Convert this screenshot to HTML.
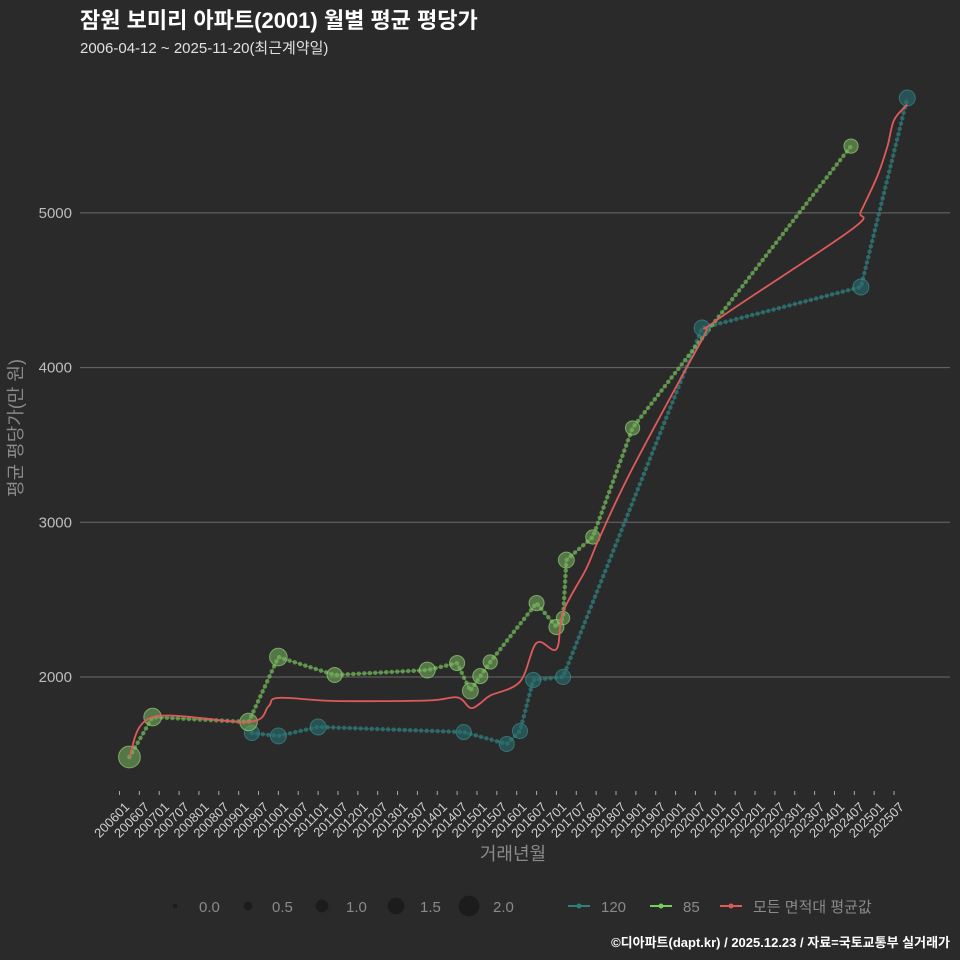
<!DOCTYPE html>
<html><head><meta charset="utf-8"><style>
html,body{margin:0;padding:0;background:#2a2a2b;}
svg{display:block;font-family:"Liberation Sans","Noto Sans CJK KR",sans-serif;}
</style></head><body>
<svg id="c" width="960" height="960" viewBox="0 0 960 960">
<rect width="960" height="960" fill="#2a2a2b"/>
<text x="80" y="28" fill="#ffffff" font-size="22" font-weight="bold">잠원 보미리 아파트(2001) 월별 평균 평당가</text>
<text x="80" y="53" fill="#e0e0e0" font-size="15">2006-04-12 ~ 2025-11-20(최근계약일)</text>
<g id="grid"></g><g id="xt"></g><g id="series"></g>
<text transform="translate(22,428) rotate(-90)" text-anchor="middle" fill="#8a8a8a" font-size="18">평균 평당가(만 원)</text>
<text x="513" y="860" text-anchor="middle" fill="#8a8a8a" font-size="18">거래년월</text>
<g id="legend"></g>
<text x="950" y="947" text-anchor="end" fill="#ffffff" font-size="13" font-weight="bold">©디아파트(dapt.kr) / 2025.12.23 / 자료=국토교통부 실거래가</text>
</svg>
<script>
const yTicks=[2000,3000,4000,5000];
const xTickLabels=[];for(let y=2006;y<=2025;y++){xTickLabels.push(y+'01');xTickLabels.push(y+'07');}
const g85Months=[200604,200611,200904,201001,201106,201310,201407,201411,201502,201505,201607,201701,201703,201704,201712,201812,202406];
const g85Values=[1483,1741,1709,2129,2013,2045,2090,1910,2006,2097,2478,2323,2381,2756,2905,3610,5432];
const g85Sizes=[2,1.5,1.5,1.5,1.2,1.3,1.2,1.3,1.2,1.1,1.2,1.2,1,1.3,1.1,1.1,1.1];
const t120Months=[200905,201001,201101,201409,201510,201602,201606,201703,202009,202409,202511];
const t120Values=[1638,1619,1677,1644,1567,1651,1981,2000,4256,4521,5743];
const t120Sizes=[1.2,1.3,1.3,1.2,1.2,1.2,1.2,1.2,1.3,1.3,1.3];
const avgMonths=[200604,200611,200904,200910,201001,201106,201310,201407,201411,201502,201505,201602,201607,201701,201703,201710,201802,201812,202009,202101,202406,202409,202502,202505,202507,202511];
const avgValues=[1483,1741,1709,1810,1865,1845,1848,1868,1800,1830,1880,1970,2220,2180,2420,2700,2900,3350,4180,4300,4890,5010,5240,5430,5600,5700];
const X0=119.5,MPX=3.31;
function mi(ym){const y=Math.floor(ym/100),m=ym%100;return (y-2006)*12+(m-1);}
function xs(ym){return X0+mi(ym)*MPX;}
function ys(v){return 677-(v-2000)*0.1547;}
function rs(s){return 2.5+s*4.2;}
const NS='http://www.w3.org/2000/svg';
function mk(t,a,p){const e=document.createElementNS(NS,t);for(const k in a)e.setAttribute(k,a[k]);p.appendChild(e);return e;}
const grid=document.getElementById('grid');
yTicks.forEach(v=>{
 const l=mk('line',{x1:80,x2:950,y1:ys(v),y2:ys(v),stroke:'#6a6a6a','stroke-width':1},grid);
 
 
 const t=mk('text',{x:72,y:ys(v)+5,'text-anchor':'end',fill:'#bdbdbd','font-size':15},grid);t.textContent=v;
 
 
});
const xt=document.getElementById('xt');
xTickLabels.forEach(lb=>{
 const x=xs(+lb);
 const tk=mk('line',{x1:x,x2:x,y1:791,y2:795,stroke:'#aaa','stroke-width':1},xt);
 
 
 const t=mk('text',{transform:`translate(${x+4},${801}) rotate(-45)`,'text-anchor':'end','dominant-baseline':'hanging',fill:'#d0d0d0','font-size':13},xt);t.textContent=lb;
 
 
});
const S=document.getElementById('series');
function dotted(ms,vs,col,name){
 const d=ms.map((m,i)=>(i?'L':'M')+xs(m)+','+ys(vs[i])).join('');
 const p2=mk('path',{d:d,fill:'none',stroke:col,'stroke-width':1.2,'stroke-opacity':0.45},S);
 
 
 const p=mk('path',{d:d,fill:'none',stroke:col,'stroke-width':4.5,'stroke-linecap':'round','stroke-dasharray':'0 5.5','stroke-opacity':0.7},S);
 
 
}
function bubbles(ms,vs,ss,fill,stroke,name){
 ms.forEach((m,i)=>{
  const c=mk('circle',{cx:xs(m),cy:ys(vs[i]),r:rs(ss[i]),fill:fill,stroke:stroke,'stroke-width':1},S);
  
  
 });
}
dotted(t120Months,t120Values,'#2f7f7c','line-120');
dotted(g85Months,g85Values,'#74b75a','line-85');
bubbles(t120Months,t120Values,t120Sizes,'rgba(40,110,110,0.6)','rgba(60,140,140,0.7)','point-120');
bubbles(g85Months,g85Values,g85Sizes,'rgba(120,180,95,0.55)','rgba(150,210,120,0.7)','point-85');
(function(){
 const P=avgMonths.map((m,i)=>[xs(m),ys(avgValues[i])]);
 let d='M'+P[0][0]+','+P[0][1];
 for(let i=0;i<P.length-1;i++){
  const p0=P[i-1]||P[i],p1=P[i],p2=P[i+1],p3=P[i+2]||P[i+1];
  const c1=[p1[0]+(p2[0]-p0[0])/6,p1[1]+(p2[1]-p0[1])/6],c2=[p2[0]-(p3[0]-p1[0])/6,p2[1]-(p3[1]-p1[1])/6];
  d+=`C${c1[0]},${c1[1]} ${c2[0]},${c2[1]} ${p2[0]},${p2[1]}`;
 }
 const p=mk('path',{d:d,fill:'none',stroke:'#e05a5a','stroke-width':1.8},S);
 
 
})();
const L=document.getElementById('legend');
const legSizes=[0,0.5,1,1.5,2],legX=[175,248,322,396,469];
legSizes.forEach((s,i)=>{
 const c=mk('circle',{cx:legX[i],cy:906,r:rs(s)*0.95,fill:'#1c1c1c'},L);
 
 
 const t=mk('text',{x:legX[i]+24,y:912,fill:'#8a8a8a','font-size':15},L);t.textContent=s.toFixed(1);
 
 
});
const legL=[[568,'#2f7f7c','120'],[650,'#74d05a','85'],[720,'#e05a5a','모든 면적대 평균값']];
legL.forEach(([x,c,lb])=>{
 const g=mk('g',{},L);
 
 
 mk('line',{x1:x,x2:x+22,y1:906,y2:906,stroke:c,'stroke-width':2},g);
 mk('circle',{cx:x+11,cy:906,r:2.5,fill:c},g);
 const t=mk('text',{x:x+33,y:912,fill:'#8a8a8a','font-size':15},g);t.textContent=lb;
});
</script>
</body></html>
